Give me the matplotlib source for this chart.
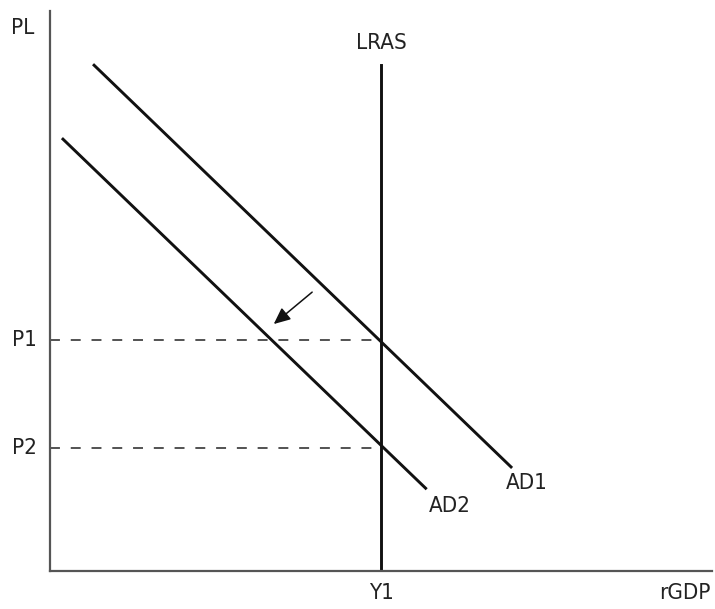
import matplotlib
matplotlib.use("Agg")
import matplotlib.pyplot as plt

# Data (arbitrary units: x = rGDP, y = PL)
ad1_x = [6.5, 69.8]
ad1_y = [90.5, 18.4]
ad2_x = [1.8, 56.9]
ad2_y = [77.3, 14.6]
lras_x = 50.0
lras_top = 90.4
p_levels = [41.2, 22.0]
p_labels = ["P1", "P2"]
y_label = "Y1"
arrow_start = (39.6, 49.8)
arrow_end = (33.8, 44.1)

plt.rcParams['font.family'] = ['DejaVu Sans Condensed', 'Liberation Sans Narrow', 'DejaVu Sans']
plt.rcParams['font.stretch'] = 'condensed'

W, H = 715, 609
fig = plt.figure(figsize=(W / 100, H / 100), dpi=100)
ax = fig.add_axes([50 / W, (H - 571) / H, (712 - 50) / W, (571 - 11) / H])
ax.set_xlim(0, 100)
ax.set_ylim(0, 100)
for s in ["top", "right"]:
    ax.spines[s].set_visible(False)
for s in ["left", "bottom"]:
    ax.spines[s].set_color("#555555")
    ax.spines[s].set_linewidth(1.6)
ax.set_xticks([])
ax.set_yticks([])

lw = 2.1
ax.plot(ad1_x, ad1_y, color="#111111", lw=lw, solid_capstyle="butt")
ax.plot(ad2_x, ad2_y, color="#111111", lw=lw, solid_capstyle="butt")
ax.plot([lras_x, lras_x], [0, lras_top], color="#111111", lw=lw)

for p in p_levels:
    ax.plot([0, lras_x], [p, p], color="#444444", lw=1.3, dashes=(5.5, 6))

ax.annotate("", xy=arrow_end, xytext=arrow_start,
            arrowprops=dict(arrowstyle="-|>,head_length=1.0,head_width=0.45",
                            color="#111111", lw=1.1, shrinkA=0, shrinkB=0))

fs = 16
tc = "#222222"
ax.text(-4.2, 97, "PL", fontsize=fs, color=tc, ha="center", va="center", clip_on=False)
ax.text(lras_x, 94.3, "LRAS", fontsize=fs, color=tc, ha="center", va="center")
for p, lab in zip(p_levels, p_labels):
    ax.text(-3.8, p, lab, fontsize=fs, color=tc, ha="center", va="center", clip_on=False)
ax.text(lras_x, -3.9, y_label, fontsize=fs, color=tc, ha="center", va="center", clip_on=False)
ax.text(99.8, -3.9, "rGDP", fontsize=fs, color=tc, ha="right", va="center", clip_on=False)
ax.text(72.0, 15.7, "AD1", fontsize=fs, color=tc, ha="center", va="center")
ax.text(60.4, 11.6, "AD2", fontsize=fs, color=tc, ha="center", va="center")

fig.savefig("out.png", dpi=100, facecolor="white")
